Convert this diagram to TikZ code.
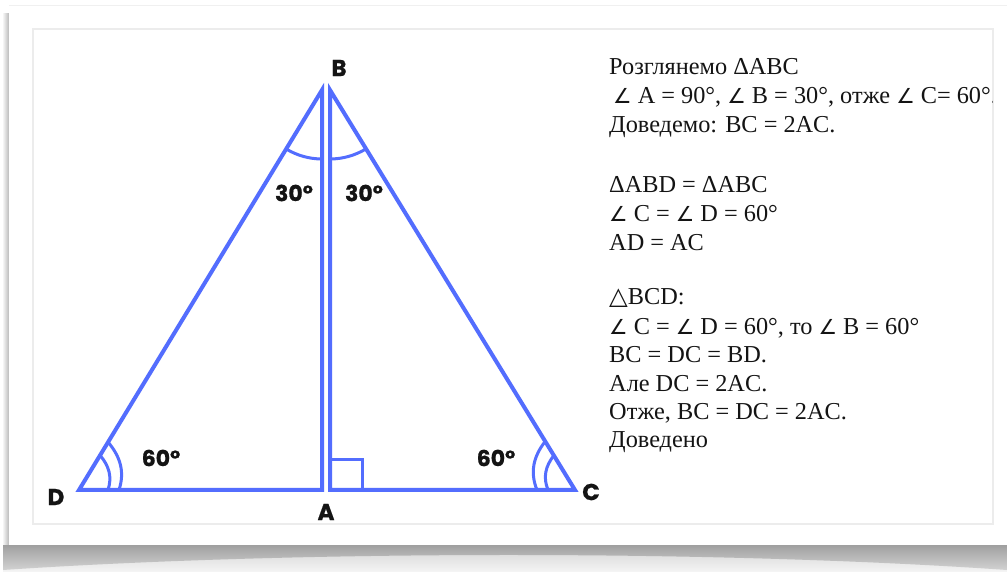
\documentclass[tikz,border=0pt]{standalone}
\usepackage{fontspec}
\setmainfont{Liberation Serif}
\newfontfamily\lblfont{Poppins}[BoldFeatures={FakeBold=0.8}]
\newfontfamily\dvsym{DejaVu Sans}[Scale=0.85]
\newfontfamily\dvtri{DejaVu Sans}
\usetikzlibrary{calc}
\definecolor{geo}{RGB}{83,109,254}
\definecolor{frameline}{RGB}{236,236,236}
\definecolor{ink}{RGB}{20,20,20}
\newcommand{\kut}{{\dvsym ∠}}
\newcommand{\trikut}{{\dvtri △}}
\tikzset{
  side/.style={draw=geo,line width=4pt,line join=miter},
  arcmark/.style={draw=geo,line width=3pt},
  sqmark/.style={draw=geo,line width=3pt},
  vlabel/.style={font=\lblfont\bfseries\fontsize{23}{23}\selectfont,text=ink,inner sep=0pt},
  alabel/.style={font=\lblfont\bfseries\fontsize{22}{22}\selectfont,text=ink,inner sep=0pt},
  proof/.style={anchor=base west,font=\fontsize{24.3}{29}\selectfont,text=ink,inner sep=0pt},
}
\begin{document}
\begin{tikzpicture}[x=1pt,y=1pt]
  \useasboundingbox (0,0) rectangle (1007,572);
  % card with its shadow
  \shade[top color=gray!35,bottom color=gray!8] (3,0) rectangle (1007,27);
  \shade[top color=gray!75,bottom color=gray!35] (3,27) -- (1007,27) -- (1007,2)
    .. controls (720,22) and (300,22) .. (3,2) -- cycle;
  \shade[left color=white,right color=gray!55] (2,27) rectangle (9,558);
  \fill[white] (9,27) rectangle (1007,566);
  \draw[gray!12,line width=1pt] (9,566) -- (1007,566);
  \draw[frameline,line width=1.5pt] (33,48) rectangle (993,543);
  % triangles
  \coordinate (D) at (79,82);
  \coordinate (B1) at (322,482);
  \coordinate (A1) at (322,82);
  \coordinate (B2) at (330,482);
  \coordinate (A2) at (330,82);
  \coordinate (C) at (575,82);
  \draw[side] (D) -- (B1) -- (A1) -- cycle;
  \draw[side] (A2) -- (B2) -- (C) -- cycle;
  \draw[sqmark] ($(A2)+(0,30)$) -| ($(A2)+(32,0)$);
  \draw[arcmark] ($(B1)+(238.7:69)$) arc[start angle=238.7,end angle=270,radius=69];
  \draw[arcmark] ($(B2)+(270:69)$) arc[start angle=270,end angle=301.5,radius=69];
  \foreach \r in {29,40}
    \draw[arcmark] ($(D)+(\r,0)$) to[out=72,in=-50] ($(D)+(58.7:1.4*\r)$);
  \foreach \r in {27,38}
    \draw[arcmark] ($(C)+(-\r,0)$) to[out=112,in=232] ($(C)+(121.5:1.5*\r)$);
  \node[vlabel] (lB) at (339,504) {B};
  \node[vlabel] (lD) at (56,75) {D};
  \node[vlabel] (lA) at (326,60) {A};
  \node[vlabel] (lC) at (591,80) {C};
  \node[alabel] (b30l) at (294,379) {30°};
  \node[alabel] (b30r) at (364,379) {30°};
  \node[alabel] (d60) at (161,114) {60°};
  \node[alabel] (c60) at (496,114) {60°};
  % proof text
  \begin{scope}
    \clip (33,48) rectangle (992,543);
    \foreach \n/\y/\t in {1/497/{Розглянемо ΔABC},
        2/468/{\hspace*{4pt}\kut{} A = 90°, \kut{} B = 30°, отже \kut{} C= 60°.},
        3/439/{Доведемо: BC = 2AC.},
        4/379/{ΔABD = ΔABC},
        5/350/{\kut{} C = \kut{} D = 60°},
        6/321/{AD = AC},
        7/267/{\trikut BCD:},
        8/237/{\kut{} C = \kut{} D = 60°, то \kut{} B = 60°},
        9/209/{BC = DC = BD.},
        10/180/{Але DC = 2AC.},
        11/152/{Отже, BC = DC = 2AC.},
        12/124/{Доведено}}
      \node[proof] (line\n) at (609,\y) {\t};
  \end{scope}
\end{tikzpicture}
\end{document}
